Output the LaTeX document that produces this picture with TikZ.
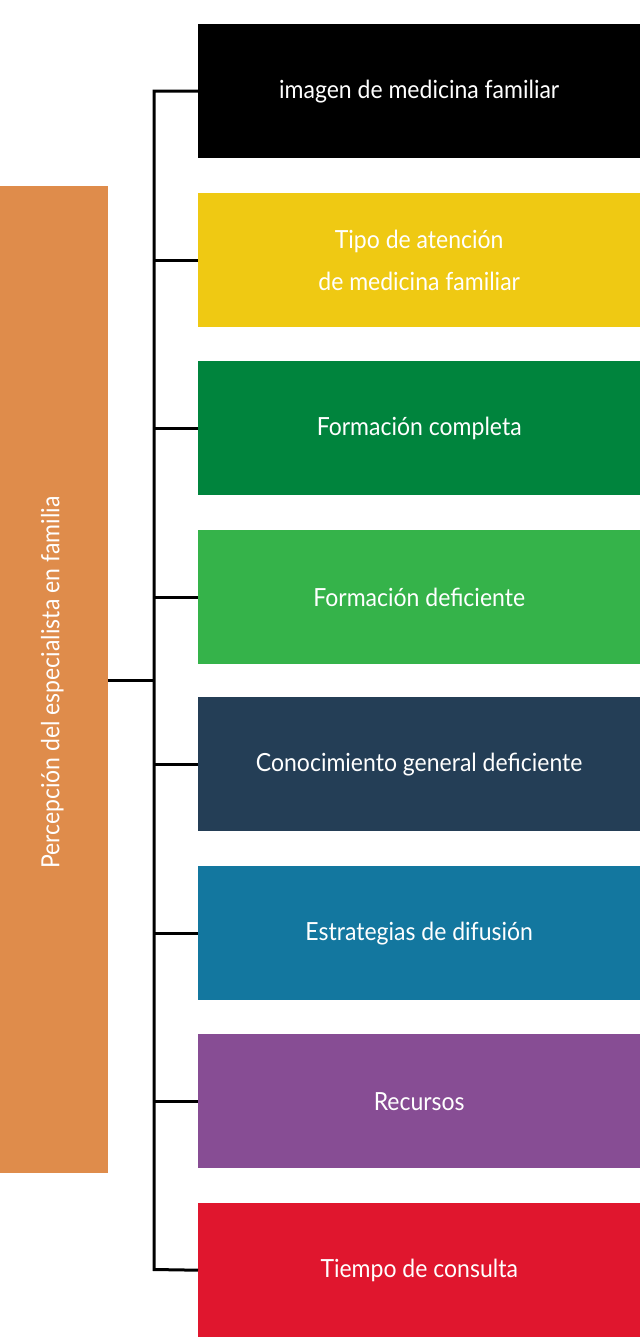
\documentclass[tikz,border=0pt]{standalone}
\usepackage{fontspec}
\setmainfont[FakeStretch=0.92]{Lato}
\definecolor{cyellow}{HTML}{EFC913}
\definecolor{cdgreen}{HTML}{00843D}
\definecolor{cgreen}{HTML}{35B34A}
\definecolor{cnavy}{HTML}{243E56}
\definecolor{cteal}{HTML}{13779F}
\definecolor{cpurple}{HTML}{874D94}
\definecolor{cred}{HTML}{E0162E}
\definecolor{corange}{HTML}{DF8C4B}
\begin{document}
\begin{tikzpicture}[x=1pt,y=-1pt,
  catbox/.style={draw=none,minimum width=442pt,minimum height=134pt,inner sep=0pt,text=white,font=\fontsize{25}{42}\selectfont,align=center,anchor=north west},
  conn/.style={line width=3pt,black}]
\useasboundingbox (0,0) rectangle (640,1337);
\fill[white] (0,0) rectangle (640,1337);
\node[catbox,fill=black] (b1) at (198,24) {imagen de medicina familiar};
\node[catbox,fill=cyellow] (b2) at (198,193) {\raisebox{-3pt}{\parbox{400pt}{\centering Tipo de atención\\de medicina familiar}}};
\node[catbox,fill=cdgreen] (b3) at (198,361) {Formación completa};
\node[catbox,fill=cgreen] (b4) at (198,530) {Formación deficiente};
\node[catbox,fill=cnavy] (b5) at (198,697) {Conocimiento general deficiente};
\node[catbox,fill=cteal] (b6) at (198,866) {Estrategias de difusión};
\node[catbox,fill=cpurple] (b7) at (198,1034) {Recursos};
\node[catbox,fill=cred] (b8) at (198,1203) {Tiempo de consulta};
\node[fill=corange,minimum width=108pt,minimum height=987pt,inner sep=0pt,anchor=north west] (main) at (0,186) {};
\node[rotate=90,text=white,font=\fontsize{25}{28}\selectfont] (mainlbl) at ([xshift=-2pt,yshift=-3pt]main.center) {Percepción del especialista en familia};
\coordinate (top) at (154,91);
\coordinate (bot) at (154,1269.5);
\coordinate (mid) at (154,680);
\draw[conn] (b1.west) -- (top |- b1.west) -- (bot -| top) -- (b8.west);
\foreach \b in {b2,b3,b4,b5,b6,b7}{\draw[conn] (top |- \b.west) -- (\b.west);}
\draw[conn] (main.east |- mid) -- (mid);
\end{tikzpicture}
\end{document}
